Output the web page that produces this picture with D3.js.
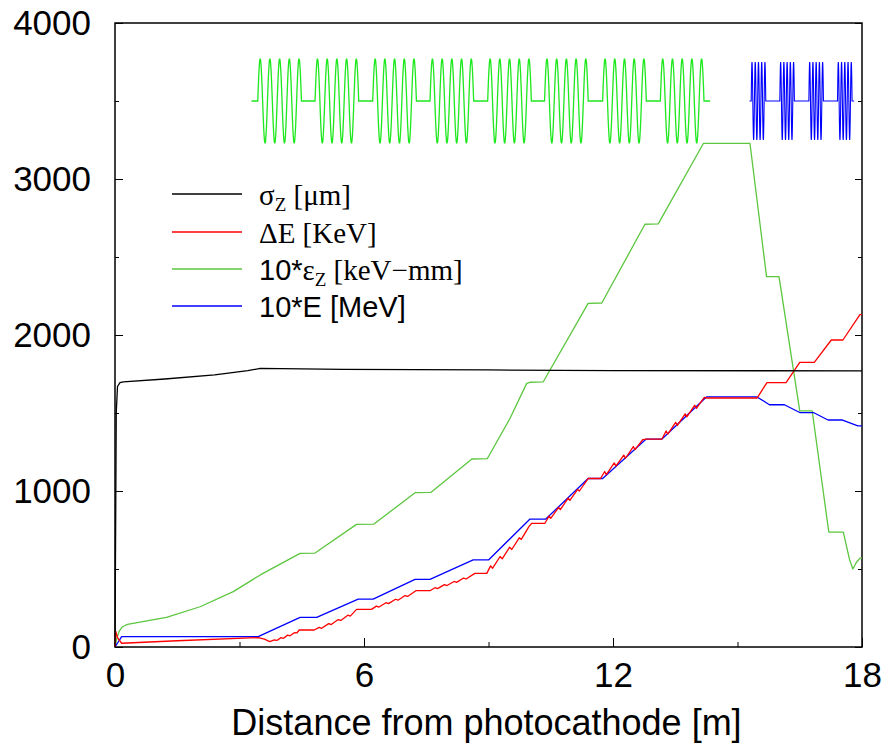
<!DOCTYPE html>
<html>
	<head>
		<meta charset="utf-8">
		<title></title>
		<script src="https://d3js.org/d3.v7.min.js"></script>
		<style>
			body { margin: 0; background: #fff; }
			.tick text { font-family: "Liberation Sans", Arial, sans-serif; font-size: 35px; fill: #000; }
			.tick line, .domain { stroke: #000; }
		</style>
	</head>
	<body>
		<div class="main_div"></div>
		<script>

			// Tick values
			var xMajor = [0, 6, 12, 18];
			var xMinor = [3, 9, 15];
			var yMajor = [0, 1000, 2000, 3000, 4000];
			var yMinor = [500, 1500, 2500, 3500];

			// Series [distance m, value]
			var sigmaZ = [[0,0],[0.03,1500],[0.06,1670],[0.12,1695],[0.2,1700],[1.2,1718],[2.4,1744],[3.2,1771],[3.5,1786],[5.5,1780],[9,1776],[12,1772],[18,1770]];

			var deltaE = [[0,0],[0.02,100],[0.06,60],[0.16,24],[1.5,40],[3.45,60],[3.6,50],[3.73,34],
				[3.84,46],[3.9,42],[4.0,60],[4.06,56],[4.16,76],[4.22,72],[4.32,92],[4.38,90],[4.44,109],[4.8,109],
				[4.92,126],[4.98,120],[5.15,150],[5.21,144],[5.38,176],[5.44,170],[5.61,204],[5.67,198],[5.82,241],[6.18,241],
				[6.3,262],[6.36,256],[6.53,284],[6.59,278],[6.76,306],[6.82,300],[6.99,330],[7.05,324],[7.25,361],[7.59,361],
				[7.71,380],[7.77,374],[7.94,400],[8.0,394],[8.17,420],[8.23,414],[8.4,442],[8.46,436],[8.67,472],[8.96,472],
				[9.05,520],[9.1,505],[9.28,580],[9.33,565],[9.51,640],[9.56,625],[9.74,700],[9.79,690],[9.97,770],[10.04,793],[10.36,793],
				[10.46,840],[10.5,825],[10.69,895],[10.73,880],[10.92,955],[10.96,940],[11.15,1010],[11.19,1000],[11.4,1080],[11.7,1080],
				[11.8,1125],[11.84,1105],[12.03,1180],[12.07,1160],[12.26,1230],[12.3,1210],[12.49,1285],[12.53,1265],[12.72,1330],[12.8,1333],[13.18,1333],
				[13.28,1385],[13.32,1365],[13.51,1440],[13.55,1420],[13.74,1495],[13.78,1475],[13.97,1550],[14.01,1530],[14.2,1600],[14.25,1596],
				[15.47,1596],[15.71,1695],[16.17,1695],[16.5,1824],[16.85,1824],[17.26,1968],[17.54,1968],[17.95,2130],[18,2130]];

			var emitZ = [[0,0],[0.05,60],[0.1,100],[0.18,130],[0.3,145],[0.6,160],[1.24,190],[2.05,258],[2.85,355],[3.3,429],[3.5,462],[4.46,600],[4.82,602],
				[5.82,786],[6.24,788],[7.23,989],[7.61,991],[8.6,1205],[8.97,1207],[9.52,1466],[9.92,1690],[10.0,1697],[10.32,1700],
				[11.4,2203],[11.73,2205],[12.77,2710],[13.09,2712],[14.18,3229],[15.3,3229],[15.7,2374],[16.0,2374],[16.5,1513],[16.8,1513],
				[17.2,737],[17.55,737],[17.7,560],[17.78,500],[17.86,540],[17.95,570],[18,570]];

			var energy = [[0,0],[0.16,66],[3.45,66],[4.46,190],[4.86,190],[5.86,307],[6.22,307],[7.23,434],[7.59,434],[8.63,558],[9.0,558],
				[10.0,820],[10.38,820],[11.4,1080],[11.75,1080],[12.8,1333],[13.18,1333],[14.25,1603],[15.47,1603],[15.77,1553],[16.13,1553],
				[16.5,1503],[16.83,1503],[17.18,1455],[17.53,1455],[17.9,1417],[18,1417]];

			// Cavity markers along the top (start positions, m)
			var gunCavities = [3.44, 4.82, 6.21, 7.59, 8.98, 10.35, 11.75, 13.14];
			var gunSpan = [3.29, 14.34];
			var gunCycle = 0.234, gunAmp = 272;
			var linacCavities = [15.33, 16.02, 16.72, 17.41];
			var linacSpan = [15.29, 17.81];
			var linacCycle = 0.078, linacAmp = 250;
			var cavityBase = 3500;

			var legendLabels = ["sigma", "dE", "emit", "E"];

			// Svg
			var padL = 115, padT = 23, padR = 862, padB = 647;
			var svg = d3.select(".main_div").append("svg")
				.attr("width", 886).attr("height", 744);

			var xScale = d3.scaleLinear().domain([0, 18]).range([padL, padR]);
			var yScale = d3.scaleLinear().domain([0, 4000]).range([padB, padT]);

			// Axes (ticks point inward, mirrored on the right)
			svg.append("g").attr("transform", "translate(0," + padB + ")")
				.call(d3.axisBottom(xScale).tickValues(xMajor).tickSizeInner(-9).tickSizeOuter(0).tickPadding(15).tickFormat(d3.format("d")));
			svg.append("g").attr("transform", "translate(0," + padB + ")")
				.call(d3.axisBottom(xScale).tickValues(xMinor).tickSizeInner(-5).tickSizeOuter(0).tickFormat(""));
			svg.append("g").attr("transform", "translate(" + padL + ",0)")
				.call(d3.axisLeft(yScale).tickValues(yMajor).tickSizeInner(-8).tickSizeOuter(0).tickPadding(24).tickFormat(d3.format("d")))
				.selectAll("text").attr("dy", "0.34em");
			svg.append("g").attr("transform", "translate(" + padL + ",0)")
				.call(d3.axisLeft(yScale).tickValues(yMinor).tickSizeInner(-4).tickSizeOuter(0).tickFormat(""));
			svg.append("g").attr("transform", "translate(" + padR + ",0)")
				.call(d3.axisRight(yScale).tickValues(yMajor).tickSizeInner(-7).tickSizeOuter(0).tickFormat(""));
			svg.append("g").attr("transform", "translate(" + padR + ",0)")
				.call(d3.axisRight(yScale).tickValues(yMinor).tickSizeInner(-4).tickSizeOuter(0).tickFormat(""));
			svg.selectAll(".domain").remove();

			svg.append("rect").attr("x", padL).attr("y", padT)
				.attr("width", padR - padL).attr("height", padB - padT)
				.attr("fill", "none").attr("stroke", "#000").attr("stroke-width", 1.5);

			svg.append("text").attr("x", (padL + padR) / 2 - 2).attr("y", 735)
				.attr("text-anchor", "middle")
				.style("font-family", "Liberation Sans, Arial, sans-serif").style("font-size", "36px")
				.text("Distance from photocathode [m]");

			// Lines
			var line = d3.line().x(function(d){ return xScale(d[0]); }).y(function(d){ return yScale(d[1]); });
			var series = [
				{ data: emitZ, color: "#5cc63e" },
				{ data: energy, color: "#0000ff" },
				{ data: deltaE, color: "#ff0000" },
				{ data: sigmaZ, color: "#000000" }
			];
			svg.selectAll("path.series").data(series).enter().append("path")
				.attr("class", "series")
				.attr("d", function(s){ return line(s.data); })
				.attr("fill", "none").attr("stroke", function(s){ return s.color; })
				.attr("stroke-width", 1.3).attr("stroke-linejoin", "round");

			// Cavity wiggles
			function wiggle(starts, span, cycle, amp) {
				var pts = [[span[0], cavityBase]];
				starts.forEach(function(s) {
					pts.push([s, cavityBase]);
					for (var i = 1; i <= 90; i++) {
						var t = i / 90 * 4.5;
						pts.push([s + t * cycle, cavityBase + amp * Math.sin(2 * Math.PI * t)]);
					}
				});
				pts.push([span[1], cavityBase]);
				return pts;
			}
			svg.append("path").attr("d", line(wiggle(gunCavities, gunSpan, gunCycle, gunAmp)))
				.attr("fill", "none").attr("stroke", "#1ee81e").attr("stroke-width", 1.3);
			svg.append("path").attr("d", line(wiggle(linacCavities, linacSpan, linacCycle, linacAmp)))
				.attr("fill", "none").attr("stroke", "#0000ff").attr("stroke-width", 1.1);

			// Legend
			var legendColors = ["#000000", "#ff0000", "#5cc63e", "#0000ff"];
			var legendY = [194, 232, 269, 306];
			var serif = "Liberation Serif, Times New Roman, serif";
			var sans = "Liberation Sans, Arial, sans-serif";
			var lg = svg.append("g");
			legendLabels.forEach(function(name, i) {
				lg.append("line").attr("x1", 172).attr("x2", 242)
					.attr("y1", legendY[i]).attr("y2", legendY[i])
					.attr("stroke", legendColors[i]).attr("stroke-width", 1.3);
				var t = lg.append("text").attr("x", 259).attr("y", legendY[i] + 11).style("font-size", "29px");
				if (name == "sigma") {
					t.append("tspan").style("font-family", serif).text("σ");
					t.append("tspan").style("font-family", serif).style("font-size", "19px").attr("dy", 6).text("Z");
					t.append("tspan").style("font-family", serif).attr("dy", -6).text(" [μm]");
				} else if (name == "dE") {
					t.append("tspan").style("font-family", serif).text("ΔE [KeV]");
				} else if (name == "emit") {
					t.append("tspan").style("font-family", sans).text("10*");
					t.append("tspan").style("font-family", serif).text("ε");
					t.append("tspan").style("font-family", serif).style("font-size", "19px").attr("dy", 6).text("Z");
					t.append("tspan").style("font-family", serif).attr("dy", -6).text(" [keV−mm]");
				} else {
					t.append("tspan").style("font-family", sans).text("10*E [MeV]");
				}
			});

		</script>
	</body>
</html>
